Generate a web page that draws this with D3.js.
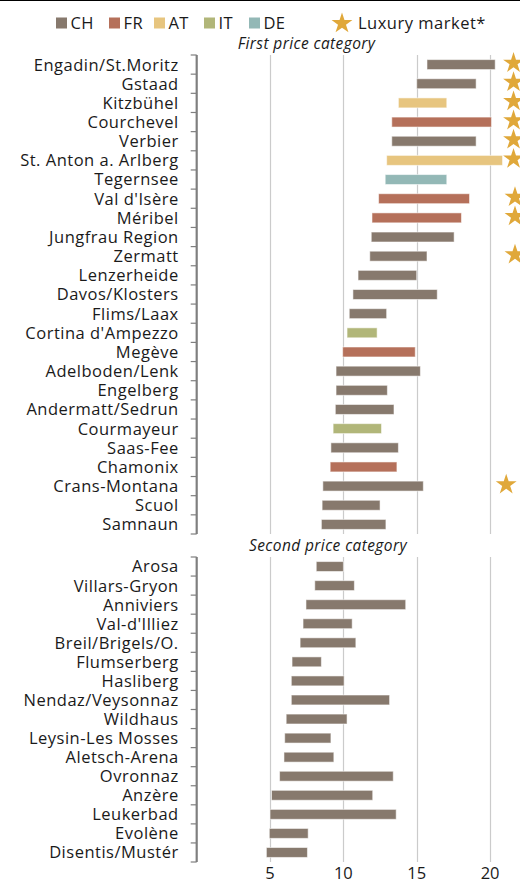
<!DOCTYPE html>
<html><head><meta charset="utf-8">
<script src="https://cdn.jsdelivr.net/npm/d3@7"></script>
<style>
html,body{margin:0;padding:0;background:#fff;}
svg{display:block;font-family:"Open Sans","Noto Sans",sans-serif;}
</style></head>
<body>
<svg id="chart" width="520" height="882"></svg>
<script>
// ---------- DATA ----------
const countries = ["CH","FR","AT","IT","DE"];
const countryColors = ["#87796d","#b5705a","#e7c57f","#b1b679","#93b8b6"];

const firstNames = ["Engadin/St.Moritz","Gstaad","Kitzbühel","Courchevel","Verbier","St. Anton a. Arlberg","Tegernsee","Val d'Isère","Méribel","Jungfrau Region","Zermatt","Lenzerheide","Davos/Klosters","Flims/Laax","Cortina d'Ampezzo","Megève","Adelboden/Lenk","Engelberg","Andermatt/Sedrun","Courmayeur","Saas-Fee","Chamonix","Crans-Montana","Scuol","Samnaun"];
const firstCountry = ["CH","CH","AT","FR","CH","AT","DE","FR","FR","CH","CH","CH","CH","CH","IT","FR","CH","CH","CH","IT","CH","FR","CH","CH","CH"];
const firstLow  = [15.7,15.0,13.75,13.3,13.3,12.95,12.85,12.4,11.95,11.9,11.8,11.0,10.65,10.4,10.25,9.95,9.5,9.5,9.45,9.3,9.15,9.1,8.6,8.55,8.5];
const firstHigh = [20.35,19.05,17.05,20.1,19.05,20.85,17.05,18.6,18.05,17.55,15.7,15.0,16.4,12.95,12.3,14.9,15.25,13.0,13.45,12.6,13.75,13.65,15.45,12.5,12.9];

const secondNames = ["Arosa","Villars-Gryon","Anniviers","Val-d'Illiez","Breil/Brigels/O.","Flumserberg","Hasliberg","Nendaz/Veysonnaz","Wildhaus","Leysin-Les Mosses","Aletsch-Arena","Ovronnaz","Anzère","Leukerbad","Evolène","Disentis/Mustér"];
const secondLow  = [8.15,8.05,7.45,7.25,7.05,6.5,6.45,6.45,6.1,6.0,5.95,5.65,5.1,5.0,4.95,4.75];
const secondHigh = [10.0,10.75,14.25,10.6,10.85,8.5,10.05,13.15,10.25,9.15,9.35,13.4,12.0,13.6,7.6,7.55];

const luxuryResorts = ["Engadin/St.Moritz","Gstaad","Kitzbühel","Courchevel","Verbier","St. Anton a. Arlberg","Val d'Isère","Méribel","Zermatt","Crans-Montana"];
const luxuryX = [21.6,21.6,21.6,21.6,21.6,21.6,21.7,21.7,21.7,21.1];

const xTicks = [5,10,15,20];
const sectionTitles = ["First price category","Second price category"];
const legendStarLabel = "Luxury market*";

// ---------- CHART ----------
const svg = d3.select("#chart");
const color = d3.scaleOrdinal().domain(countries).range(countryColors);
const x = d3.scaleLinear().domain([0,22]).range([196.7,519.4]);

svg.append("line").attr("x1",0).attr("x2",520).attr("y1",0.5).attr("y2",0.5)
  .attr("stroke","#000").attr("stroke-width",1);

// legend
const legendX = [56,109,154,204,249];
countries.forEach((c,i)=>{
  svg.append("rect").attr("x",legendX[i]).attr("y",17.5).attr("width",11).attr("height",11)
    .attr("fill",color(c));
  svg.append("text").attr("x",legendX[i]+14.5).attr("y",29).attr("font-size",16.5)
    .attr("letter-spacing",0.4).attr("fill","#1a1a1a").text(c);
});
svg.append("path").attr("d",d3.symbol(d3.symbolStar,135)())
  .attr("transform","translate(342,23.5)").attr("fill","#e0a83a");
svg.append("text").attr("x",358).attr("y",29).attr("font-size",16.5)
  .attr("letter-spacing",0.5).attr("fill","#1a1a1a").text(legendStarLabel);

function panel(names, countryArr, lows, highs, y0, y1, title, titleX, titleY){
  const y = d3.scaleBand().domain(names).range([y0,y1]).paddingInner(0.48).paddingOuter(0.24);
  const g = svg.append("g");
  // gridlines
  g.selectAll(".grid").data(xTicks).join("line")
    .attr("x1",d=>Math.round(x(d))+0.5).attr("x2",d=>Math.round(x(d))+0.5)
    .attr("y1",y0).attr("y2",y1).attr("stroke","#cbcbcb").attr("stroke-width",1.2);
  // bars
  g.selectAll(".bar").data(names).join("rect")
    .attr("x",(d,i)=>x(lows[i])).attr("width",(d,i)=>x(highs[i])-x(lows[i]))
    .attr("y",d=>y(d)).attr("height",y.bandwidth())
    .attr("fill",(d,i)=>color(countryArr[i]))
    .attr("stroke","#ffffff").attr("stroke-opacity",0.55).attr("stroke-width",1);
  // stars
  g.selectAll(".star").data(names.filter(n=>luxuryResorts.includes(n))).join("path")
    .attr("d",d3.symbol(d3.symbolStar,135)())
    .attr("transform",d=>`translate(${x(luxuryX[luxuryResorts.indexOf(d)])},${y(d)+y.bandwidth()/2-1.5})`)
    .attr("fill","#e0a83a");
  // y axis
  const axis = g.append("g").attr("transform","translate(196.7,0)");
  axis.append("line").attr("x1",0).attr("x2",0).attr("y1",y0).attr("y2",y1)
    .attr("stroke","#7f7f7f").attr("stroke-width",2.2);
  const bounds = d3.range(names.length+1).map(i=>y0+i*y.step());
  axis.selectAll(".tk").data(bounds).join("line")
    .attr("x1",-6).attr("x2",0).attr("y1",d=>d).attr("y2",d=>d)
    .attr("stroke","#7f7f7f").attr("stroke-width",1.2);
  axis.selectAll(".lb").data(names).join("text")
    .attr("x",-18).attr("y",d=>y(d)+y.bandwidth()/2).attr("dy","0.36em")
    .attr("text-anchor","end").attr("font-size",16.5).attr("letter-spacing",0.5)
    .attr("fill","#1a1a1a").text(d=>d);
  svg.append("text").attr("x",titleX).attr("y",titleY).attr("text-anchor","middle")
    .attr("font-size",15.5).attr("letter-spacing",0.4).attr("font-style","italic")
    .attr("fill","#1a1a1a").text(title);
}

panel(firstNames, firstCountry, firstLow, firstHigh, 55, 534, sectionTitles[0], 306.5, 48.5);
panel(secondNames, secondNames.map(()=> "CH"), secondLow, secondHigh, 557, 862, sectionTitles[1], 328, 551);

// x axis labels
svg.selectAll(".xl").data(xTicks).join("text")
  .attr("x",d=>x(d)).attr("y",879).attr("text-anchor","middle")
  .attr("font-size",16.5).attr("fill","#1a1a1a").text(d=>d);
</script>
</body></html>
